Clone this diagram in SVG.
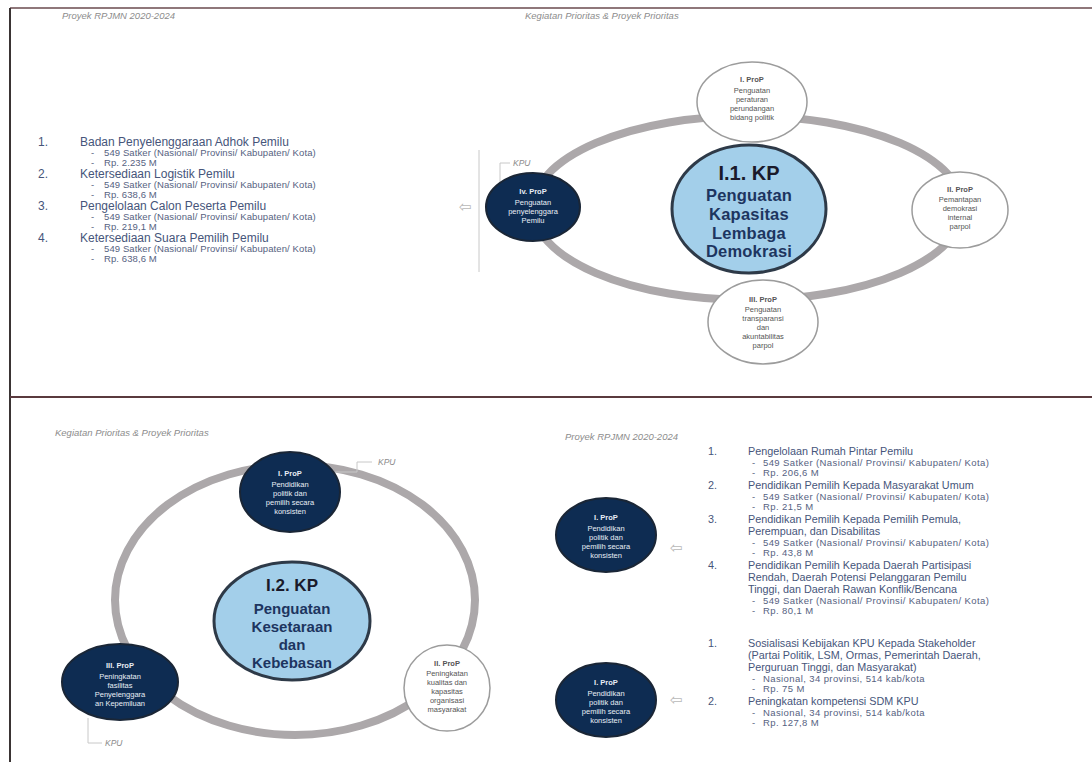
<svg xmlns="http://www.w3.org/2000/svg" width="1092" height="772" viewBox="0 0 1092 772">
<defs>
<style>
.hdr{font-family:"Liberation Sans",Arial,sans-serif;font-size:9.5px;font-style:italic;fill:#8c8c8c}
.li{font-family:"Liberation Sans",Arial,sans-serif;font-size:12px;fill:#46557a}
.sub{font-family:"Liberation Sans",Arial,sans-serif;font-size:9.5px;fill:#56627f;letter-spacing:0.1px}
.li2{font-family:"Liberation Sans",Arial,sans-serif;font-size:10.8px;fill:#46557a}
.sub2{font-family:"Liberation Sans",Arial,sans-serif;font-size:9.5px;fill:#56627f;letter-spacing:0.4px}
.ring{fill:none;stroke:#aca8aa;stroke-width:8}
.dark{fill:#0e2c52;stroke:#1a2636;stroke-width:2}
.white{fill:#ffffff;stroke:#9c9c9c;stroke-width:1.5}
.blue{fill:#a3cfea;stroke:#2e3a48;stroke-width:3}
.tw{font-family:"Liberation Sans",Arial,sans-serif;font-size:7.5px;fill:#e8eef6;text-anchor:middle}
.tg{font-family:"Liberation Sans",Arial,sans-serif;font-size:7.5px;fill:#555;text-anchor:middle}
.b{font-weight:bold}
.tk{font-family:"Liberation Sans",Arial,sans-serif;font-weight:bold;text-anchor:middle;fill:#1d3560;font-size:16.5px;letter-spacing:0.2px}
.tk2{font-family:"Liberation Sans",Arial,sans-serif;font-weight:bold;text-anchor:middle;fill:#1d3560;font-size:15px}
.tkh{font-family:"Liberation Sans",Arial,sans-serif;font-weight:bold;text-anchor:middle;fill:#1a1a2a;font-size:20px}
.tkh2{font-family:"Liberation Sans",Arial,sans-serif;font-weight:bold;text-anchor:middle;fill:#1a1a2a;font-size:17px}
.ln{stroke:#c8c8c8;stroke-width:1;fill:none}
.kpu{font-family:"Liberation Sans",Arial,sans-serif;font-size:8.5px;font-style:italic;fill:#8c8c8c}
.arr{font-family:"DejaVu Sans",sans-serif;font-size:15px;fill:#b8b8b8}
</style>
</defs>
<rect width="1092" height="772" fill="#ffffff"/>
<g id="frame">
<line x1="10" y1="8" x2="1092" y2="8" stroke="#6a4a4e" stroke-width="1.5"/>
<line x1="10" y1="8" x2="10" y2="762" stroke="#3a3434" stroke-width="2"/>
<line x1="10" y1="397" x2="1092" y2="397" stroke="#5a3a3e" stroke-width="2"/>
</g>
<g id="headers">
<text class="hdr" x="62" y="19">Proyek RPJMN 2020-2024</text>
<text class="hdr" x="525" y="19">Kegiatan Prioritas &amp; Proyek Prioritas</text>
<text class="hdr" x="55" y="436">Kegiatan Prioritas &amp; Proyek Prioritas</text>
<text class="hdr" x="565" y="440">Proyek RPJMN 2020-2024</text>
</g>
<g id="connectors">
<ellipse class="ring" cx="748" cy="208" rx="215" ry="92"/>
<ellipse class="ring" cx="295" cy="600" rx="180" ry="135"/>
<line class="ln" x1="479" y1="150" x2="479" y2="272"/>
<text class="arr" x="459" y="212">⇦</text>
<polyline class="ln" points="500,185 500,163 510,163"/>
<text class="kpu" x="513" y="166">KPU</text>
<polyline class="ln" points="335,472 357,472 357,462 372,462"/>
<text class="kpu" x="378" y="465">KPU</text>
<polyline class="ln" points="88,718 88,743 102,743"/>
<text class="kpu" x="105" y="746">KPU</text>
<text class="arr" x="670" y="553">⇦</text>
<text class="arr" x="670" y="705">⇦</text>
</g>
<g id="list-top">
<text class="li" x="38" y="146">1.</text><text class="li" x="80" y="146">Badan Penyelenggaraan Adhok Pemilu</text>
<text class="sub" x="91" y="156">-</text><text class="sub" x="104" y="156">549 Satker (Nasional/ Provinsi/ Kabupaten/ Kota)</text>
<text class="sub" x="91" y="166">-</text><text class="sub" x="104" y="166">Rp. 2.235 M</text>
<text class="li" x="38" y="178">2.</text><text class="li" x="80" y="178">Ketersediaan Logistik Pemilu</text>
<text class="sub" x="91" y="188">-</text><text class="sub" x="104" y="188">549 Satker (Nasional/ Provinsi/ Kabupaten/ Kota)</text>
<text class="sub" x="91" y="198">-</text><text class="sub" x="104" y="198">Rp. 638,6 M</text>
<text class="li" x="38" y="210">3.</text><text class="li" x="80" y="210">Pengelolaan Calon Peserta Pemilu</text>
<text class="sub" x="91" y="220">-</text><text class="sub" x="104" y="220">549 Satker (Nasional/ Provinsi/ Kabupaten/ Kota)</text>
<text class="sub" x="91" y="230">-</text><text class="sub" x="104" y="230">Rp. 219,1 M</text>
<text class="li" x="38" y="242">4.</text><text class="li" x="80" y="242">Ketersediaan Suara Pemilih Pemilu</text>
<text class="sub" x="91" y="252">-</text><text class="sub" x="104" y="252">549 Satker (Nasional/ Provinsi/ Kabupaten/ Kota)</text>
<text class="sub" x="91" y="262">-</text><text class="sub" x="104" y="262">Rp. 638,6 M</text>
</g>
<g id="node-top-I">
<ellipse class="white" cx="752" cy="102" rx="55" ry="40"/>
<text class="tg b" x="752" y="82">I. ProP</text>
<text class="tg" x="752" y="93">Penguatan</text>
<text class="tg" x="752" y="102">peraturan</text>
<text class="tg" x="752" y="111">perundangan</text>
<text class="tg" x="752" y="120">bidang politik</text>
</g>
<g id="node-top-II">
<ellipse class="white" cx="960" cy="210" rx="48" ry="38"/>
<text class="tg b" x="960" y="192">II. ProP</text>
<text class="tg" x="960" y="202">Pemantapan</text>
<text class="tg" x="960" y="211">demokrasi</text>
<text class="tg" x="960" y="220">internal</text>
<text class="tg" x="960" y="229">parpol</text>
</g>
<g id="node-top-III">
<ellipse class="white" cx="763" cy="322" rx="55" ry="42"/>
<text class="tg b" x="763" y="302">III. ProP</text>
<text class="tg" x="763" y="312">Penguatan</text>
<text class="tg" x="763" y="321">transparansi</text>
<text class="tg" x="763" y="330">dan</text>
<text class="tg" x="763" y="339">akuntabilitas</text>
<text class="tg" x="763" y="348">parpol</text>
</g>
<g id="node-top-IV">
<ellipse class="dark" cx="533" cy="207" rx="47" ry="34"/>
<text class="tw b" x="533" y="194">Iv. ProP</text>
<text class="tw" x="533" y="205">Penguatan</text>
<text class="tw" x="533" y="214">penyelenggara</text>
<text class="tw" x="533" y="223">Pemilu</text>
</g>
<g id="node-kp1">
<ellipse class="blue" cx="749" cy="209" rx="77" ry="64"/>
<text class="tkh" x="749" y="180">I.1. KP</text>
<text class="tk" x="749" y="201">Penguatan</text>
<text class="tk" x="749" y="220">Kapasitas</text>
<text class="tk" x="749" y="239">Lembaga</text>
<text class="tk" x="749" y="257">Demokrasi</text>
</g>
<g id="node-bot-I">
<ellipse class="dark" cx="290" cy="492" rx="50" ry="40"/>
<text class="tw b" x="290" y="476">I. ProP</text>
<text class="tw" x="290" y="487">Pendidikan</text>
<text class="tw" x="290" y="496">politik dan</text>
<text class="tw" x="290" y="505">pemilih secara</text>
<text class="tw" x="290" y="514">konsisten</text>
</g>
<g id="node-bot-III">
<ellipse class="dark" cx="120" cy="682" rx="58" ry="38"/>
<text class="tw b" x="120" y="668">III. ProP</text>
<text class="tw" x="120" y="679">Peningkatan</text>
<text class="tw" x="120" y="688">fasilitas</text>
<text class="tw" x="120" y="697">Penyelenggara</text>
<text class="tw" x="120" y="706">an Kepemiluan</text>
</g>
<g id="node-bot-II">
<ellipse class="white" cx="447" cy="688" rx="43" ry="43"/>
<text class="tg b" x="447" y="666">II. ProP</text>
<text class="tg" x="447" y="676">Peningkatan</text>
<text class="tg" x="447" y="685">kualitas dan</text>
<text class="tg" x="447" y="694">kapasitas</text>
<text class="tg" x="447" y="703">organisasi</text>
<text class="tg" x="447" y="712">masyarakat</text>
</g>
<g id="node-kp2">
<ellipse class="blue" cx="292" cy="621" rx="78" ry="59"/>
<text class="tkh2" x="292" y="591">I.2. KP</text>
<text class="tk2" x="292" y="614">Penguatan</text>
<text class="tk2" x="292" y="632">Kesetaraan</text>
<text class="tk2" x="292" y="650">dan</text>
<text class="tk2" x="292" y="668">Kebebasan</text>
</g>
<g id="node-right-1">
<ellipse class="dark" cx="606" cy="535" rx="50" ry="37"/>
<text class="tw b" x="606" y="520">I. ProP</text>
<text class="tw" x="606" y="531">Pendidikan</text>
<text class="tw" x="606" y="540">politik dan</text>
<text class="tw" x="606" y="549">pemilih secara</text>
<text class="tw" x="606" y="558">konsisten</text>
</g>
<g id="node-right-2">
<ellipse class="dark" cx="606" cy="700" rx="50" ry="37"/>
<text class="tw b" x="606" y="685">I. ProP</text>
<text class="tw" x="606" y="696">Pendidikan</text>
<text class="tw" x="606" y="705">politik dan</text>
<text class="tw" x="606" y="714">pemilih secara</text>
<text class="tw" x="606" y="723">konsisten</text>
</g>
<g id="list-bottom">
<text class="li2" x="708" y="455">1.</text><text class="li2" x="748" y="455">Pengelolaan Rumah Pintar Pemilu</text>
<text class="sub2" x="752" y="466">-</text><text class="sub2" x="763" y="466">549 Satker (Nasional/ Provinsi/ Kabupaten/ Kota)</text>
<text class="sub2" x="752" y="476">-</text><text class="sub2" x="763" y="476">Rp. 206,6 M</text>
<text class="li2" x="708" y="489">2.</text><text class="li2" x="748" y="489">Pendidikan Pemilih Kepada Masyarakat Umum</text>
<text class="sub2" x="752" y="500">-</text><text class="sub2" x="763" y="500">549 Satker (Nasional/ Provinsi/ Kabupaten/ Kota)</text>
<text class="sub2" x="752" y="510">-</text><text class="sub2" x="763" y="510">Rp. 21,5 M</text>
<text class="li2" x="708" y="523">3.</text><text class="li2" x="748" y="523">Pendidikan Pemilih Kepada Pemilih Pemula,</text>
<text class="li2" x="748" y="535">Perempuan, dan Disabilitas</text>
<text class="sub2" x="752" y="546">-</text><text class="sub2" x="763" y="546">549 Satker (Nasional/ Provinsi/ Kabupaten/ Kota)</text>
<text class="sub2" x="752" y="556">-</text><text class="sub2" x="763" y="556">Rp. 43,8 M</text>
<text class="li2" x="708" y="569">4.</text><text class="li2" x="748" y="569">Pendidikan Pemilih Kepada Daerah Partisipasi</text>
<text class="li2" x="748" y="581">Rendah, Daerah Potensi Pelanggaran Pemilu</text>
<text class="li2" x="748" y="593">Tinggi, dan Daerah Rawan Konflik/Bencana</text>
<text class="sub2" x="752" y="604">-</text><text class="sub2" x="763" y="604">549 Satker (Nasional/ Provinsi/ Kabupaten/ Kota)</text>
<text class="sub2" x="752" y="614">-</text><text class="sub2" x="763" y="614">Rp. 80,1 M</text>
<text class="li2" x="708" y="647">1.</text><text class="li2" x="748" y="647">Sosialisasi Kebijakan KPU Kepada Stakeholder</text>
<text class="li2" x="748" y="659">(Partai Politik, LSM, Ormas, Pemerintah Daerah,</text>
<text class="li2" x="748" y="671">Perguruan Tinggi, dan Masyarakat)</text>
<text class="sub2" x="752" y="682">-</text><text class="sub2" x="763" y="682">Nasional, 34 provinsi, 514 kab/kota</text>
<text class="sub2" x="752" y="692">-</text><text class="sub2" x="763" y="692">Rp. 75 M</text>
<text class="li2" x="708" y="705">2.</text><text class="li2" x="748" y="705">Peningkatan kompetensi SDM KPU</text>
<text class="sub2" x="752" y="716">-</text><text class="sub2" x="763" y="716">Nasional, 34 provinsi, 514 kab/kota</text>
<text class="sub2" x="752" y="726">-</text><text class="sub2" x="763" y="726">Rp. 127,8 M</text>
</g>
</svg>
